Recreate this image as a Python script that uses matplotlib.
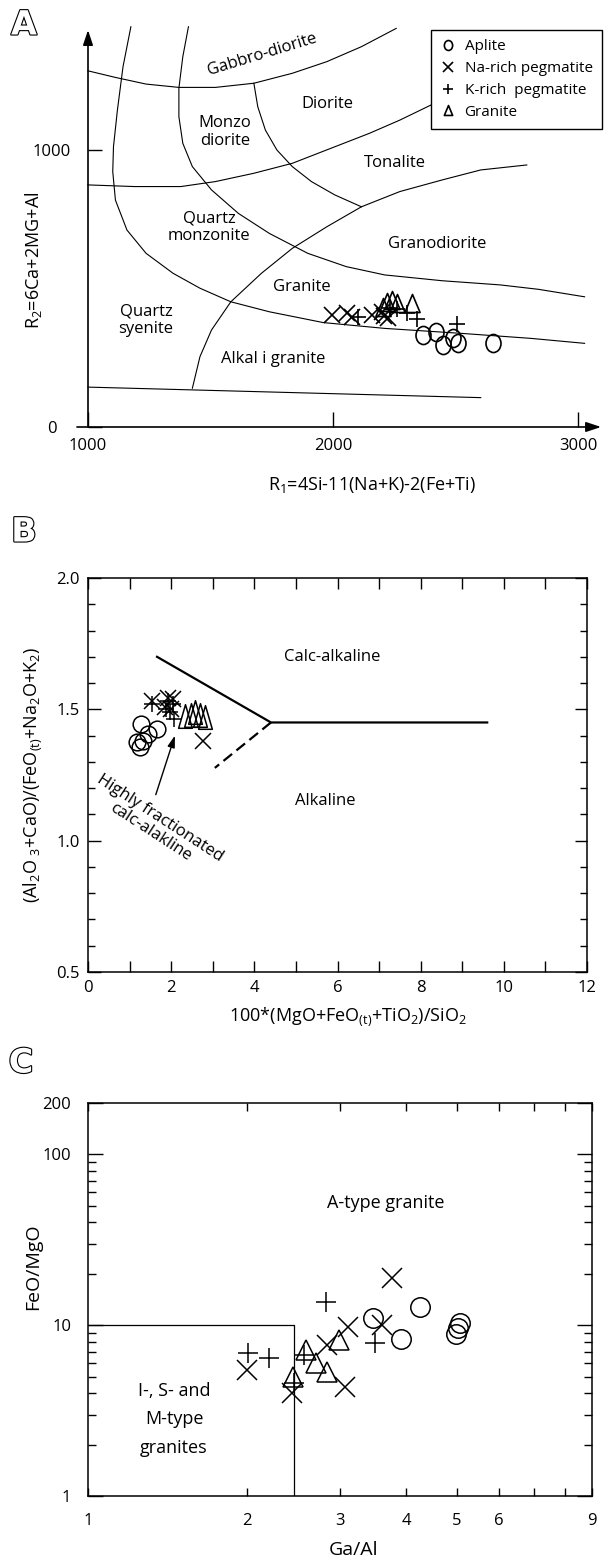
import matplotlib
matplotlib.use('Agg')
import matplotlib.pyplot as plt
import matplotlib.patheffects as pe
from matplotlib.path import Path
import numpy as np

plt.rcParams['font.family'] = ['Open Sans', 'DejaVu Sans']
plt.rcParams['mathtext.fontset'] = 'custom'
plt.rcParams['mathtext.rm'] = 'Open Sans'
plt.rcParams['mathtext.it'] = 'Open Sans:italic'
plt.rcParams['axes.linewidth'] = 1.1

W, H = 604, 1561

# ---------------- panel A : R1-R2 diagram ----------------
a_aplite_r1 = [2369, 2420, 2447, 2491, 2511, 2654]
a_aplite_r2 = [332, 344, 296, 320, 302, 302]
a_na_r1 = [1995, 2056, 2076, 2158, 2199, 2226, 2210]
a_na_r2 = [404, 413, 396, 404, 416, 392, 402]
a_k_r1 = [2103, 2233, 2260, 2301, 2341, 2505]
a_k_r2 = [398, 428, 425, 410, 389, 372]
a_gr_r1 = [2205, 2219, 2239, 2260, 2321]
a_gr_r2 = [434, 452, 458, 446, 446]

# field boundaries (R1, R2)
a_line_gabbro = [(999, 1286), (1112, 1262), (1237, 1238), (1371, 1226), (1520, 1226),
                 (1677, 1241), (1834, 1277), (1975, 1319), (2116, 1373), (2258, 1439)]
a_line_monzo = [(999, 874), (1190, 868), (1379, 868), (1520, 886), (1677, 916),
                (1834, 952), (1991, 1006), (2148, 1060), (2273, 1108), (2399, 1162)]
a_line_granite = [(2791, 946), (2603, 928), (2446, 892), (2273, 850), (2116, 795),
                  (1975, 723), (1834, 645), (1708, 555), (1583, 452), (1504, 350),
                  (1457, 254), (1426, 140)]
a_line_bottom = [(1000, 144), (2603, 106)]
a_line_syenite = [(1175, 1445), (1143, 1301), (1120, 1144), (1104, 1012), (1101, 922),
                  (1112, 819), (1159, 711), (1237, 627), (1347, 555), (1457, 501),
                  (1583, 452), (1740, 416), (1960, 377), (2211, 356), (2524, 338),
                  (2807, 320), (3027, 302)]
a_line_qmonz = [(1410, 1445), (1387, 1337), (1371, 1223), (1371, 1120), (1387, 1024),
                (1426, 940), (1504, 856), (1614, 771), (1740, 699), (1897, 627),
                (2054, 579), (2211, 549), (2446, 528), (2682, 513), (2839, 497),
                (3027, 470)]
a_line_diorite = [(1677, 1241), (1693, 1156), (1724, 1072), (1771, 1000), (1834, 940),
                  (1912, 886), (2007, 838), (2116, 795)]

a_fields = ['Gabbro-diorite', 'Diorite', 'Monzo\ndiorite', 'Tonalite', 'Quartz\nmonzonite',
            'Granodiorite', 'Granite', 'Quartz\nsyenite', 'Alkal i granite']
a_field_r1 = [1710, 1976, 1559, 2253, 1494, 2424, 1873, 1237, 1755]
a_field_r2 = [1343, 1166, 1065, 953, 722, 661, 505, 386, 245]

# ---------------- panel B ----------------
b_aplite_x = [1.27, 1.65, 1.45, 1.33, 1.17, 1.25]
b_aplite_y = [1.445, 1.425, 1.405, 1.378, 1.375, 1.357]
b_na_x = [1.55, 1.92, 2.05, 1.85, 2.00, 2.77]
b_na_y = [1.530, 1.545, 1.540, 1.510, 1.500, 1.380]
b_k_x = [1.55, 1.92, 2.05, 1.88, 1.98, 2.07]
b_k_y = [1.520, 1.530, 1.520, 1.500, 1.490, 1.465]
b_gr_x = [2.33, 2.47, 2.58, 2.70, 2.82]
b_gr_y = [1.475, 1.480, 1.490, 1.480, 1.470]
b_solid_upper = [(1.66, 1.70), (4.40, 1.45), (9.60, 1.45)]
b_dashed = [(4.40, 1.45), (3.05, 1.277)]

# ---------------- panel C ----------------
c_aplite_x = [3.46, 4.25, 3.91, 5.06, 4.97, 5.02]
c_aplite_y = [10.97, 12.83, 8.27, 10.26, 8.88, 9.59]
c_na_x = [3.76, 3.11, 3.60, 2.83, 2.00, 2.43, 3.07]
c_na_y = [18.8, 9.80, 10.03, 7.66, 5.47, 3.99, 4.36]
c_k_x = [2.82, 3.49, 2.01, 2.20, 2.56, 2.45]
c_k_y = [13.73, 7.83, 6.85, 6.40, 6.69, 4.57]
c_gr_x = [2.59, 2.99, 2.70, 2.83, 2.44]
c_gr_y = [7.16, 8.19, 5.98, 5.34, 5.00]
c_box_x = [1.0, 2.45, 2.45]
c_box_y = [10.0, 10.0, 1.0]

# markers
circ = Path.unit_circle()
ellipse = Path(circ.vertices * [0.83, 1.0], circ.codes)
tri_mid = Path([(-0.42, -0.5), (0.42, -0.5), (0, 0.5), (-0.42, -0.5)],
               [Path.MOVETO, Path.LINETO, Path.LINETO, Path.CLOSEPOLY])
tri_tall = Path([(-0.29, -0.5), (0.29, -0.5), (0, 0.5), (-0.29, -0.5)],
                [Path.MOVETO, Path.LINETO, Path.LINETO, Path.CLOSEPOLY])

fig = plt.figure(figsize=(W / 100, H / 100), dpi=100)


def px_axes(x0, y0, x1, y1):
    return fig.add_axes([x0 / W, 1 - y1 / H, (x1 - x0) / W, (y1 - y0) / H])


def pts(ax, x, y, marker, ms, label=None, mew=1.2):
    return ax.plot(x, y, ls='none', marker=marker, ms=ms, mfc='none', mec='k',
                   mew=mew, label=label, clip_on=False)[0]


def panel_letter(x, y, s):
    # hollow outlined letter
    t = fig.text(x / W, 1 - y / H, s, ha='center', va='center', fontsize=24,
                 fontweight='bold', color='white', family='DejaVu Sans')
    t.set_path_effects([pe.withStroke(linewidth=1.6, foreground='k')])


# ---- A ----
sx, sy = 0.245, 0.277  # px per unit
axA = px_axes(60, 20, 604, 440)
axA.set_xlim(1000 + (60 - 88) / sx, 1000 + (604 - 88) / sx)
axA.set_ylim((427 - 440) / sy, (427 - 20) / sy)
axA.patch.set_visible(False)
for s in axA.spines.values():
    s.set_visible(False)
axA.spines['left'].set_position(('data', 1000))
axA.spines['bottom'].set_position(('data', 0))
arrow = dict(arrowstyle='-|>,head_length=0.9,head_width=0.3', lw=1.2, color='k',
             shrinkA=0, shrinkB=0)
axA.annotate('', xy=(3094, 0), xytext=(955, 0), arrowprops=arrow)
axA.annotate('', xy=(1000, 1433), xytext=(1000, 0), arrowprops=arrow)
axA.set_xticks([1000, 2000, 3000], ['1000', '2000', '3000'])
axA.set_yticks([0, 1000], ['0', '1000'])
axA.tick_params(axis='x', direction='in', length=11, width=1, pad=8, labelsize=12)
axA.tick_params(axis='y', direction='in', length=10, width=1, pad=26, labelsize=12)
for t in axA.get_yticklabels():
    t.set_ha('center')

for line in [a_line_gabbro, a_line_monzo, a_line_granite, a_line_bottom,
             a_line_syenite, a_line_qmonz, a_line_diorite]:
    xs, ys = zip(*line)
    axA.plot(xs, ys, color='k', lw=0.8)

for name, x, y in zip(a_fields, a_field_r1, a_field_r2):
    axA.text(x, y, name, ha='center', va='center', fontsize=12,
             rotation=17 if name.startswith('Gabbro') else 0, linespacing=1.15)

h1 = pts(axA, a_aplite_r1, a_aplite_r2, ellipse, 13, 'Aplite')
h2 = pts(axA, a_na_r1, a_na_r2, 'x', 12, 'Na-rich pegmatite')
h3 = pts(axA, a_k_r1, a_k_r2, '+', 12, 'K-rich  pegmatite')
h4 = pts(axA, a_gr_r1, a_gr_r2, tri_mid, 13, 'Granite')
leg = axA.legend(handles=[h1, h2, h3, h4], loc='upper left',
                 bbox_to_anchor=(431 / W, 1 - 30 / H), bbox_transform=fig.transFigure,
                 fancybox=False, edgecolor='k', framealpha=1, fontsize=11,
                 markerscale=0.55, borderpad=0.6, labelspacing=0.45,
                 handlelength=1.0, handletextpad=0.6, borderaxespad=0)
leg.get_frame().set_linewidth(1.0)

fig.text(372 / W, 1 - 485 / H, r'R$_1$=4Si-11(Na+K)-2(Fe+Ti)', ha='center',
         va='center', fontsize=13)
fig.text(33 / W, 1 - 260 / H, r'R$_2$=6Ca+2MG+Al', ha='center', va='center',
         fontsize=13, rotation=90)
panel_letter(24, 25, 'A')

# ---- B ----
axB = px_axes(88, 578, 587, 972)
axB.set_xlim(0, 12)
axB.set_ylim(0.5, 2.0)
axB.set_xticks(np.arange(0, 13, 2), [str(v) for v in range(0, 13, 2)])
axB.set_xticks(np.arange(1, 12, 2), minor=True)
axB.set_yticks([0.5, 1.0, 1.5, 2.0], ['0.5', '1.0', '1.5', '2.0'])
axB.set_yticks(np.arange(0.6, 2.0, 0.1), minor=True)
axB.tick_params(which='both', direction='in', top=True, right=True, labelsize=12)
axB.tick_params(axis='x', which='both', length=8, width=1, pad=6)
axB.tick_params(axis='y', which='major', length=9, width=1, pad=6)
axB.tick_params(axis='y', which='minor', length=5, width=1)

xs, ys = zip(*b_solid_upper)
axB.plot(xs, ys, color='k', lw=1.6)
xs, ys = zip(*b_dashed)
axB.plot(xs, ys, color='k', lw=1.6, dashes=(5, 2.5))

pts(axB, b_aplite_x, b_aplite_y, 'o', 12, mew=1.1)
pts(axB, b_na_x, b_na_y, 'x', 11, mew=1.1)
pts(axB, b_k_x, b_k_y, '+', 11, mew=1.1)
pts(axB, b_gr_x, b_gr_y, tri_tall, 17, mew=1.1)

axB.text(5.87, 1.70, 'Calc-alkaline', ha='center', va='center', fontsize=12)
axB.text(5.70, 1.15, 'Alkaline', ha='center', va='center', fontsize=12)
axB.text(1.62, 1.06, 'Highly fractionated\ncalc-alakline', ha='center', va='center',
         fontsize=12, rotation=-33, rotation_mode='anchor', linespacing=1.05)
axB.annotate('', xy=(2.09, 1.40), xytext=(1.63, 1.175),
             arrowprops=dict(arrowstyle='-|>,head_length=0.7,head_width=0.22',
                             color='k', lw=1.0, shrinkA=0, shrinkB=0))

fig.text(348 / W, 1 - 1017 / H, r'100*(MgO+FeO$_{\mathrm{(t)}}$+TiO$_2$)/SiO$_2$',
         ha='center', va='center', fontsize=13)
fig.text(33 / W, 1 - 775 / H,
         r'(Al$_2$O $_3$+CaO)/(FeO$_{\mathrm{(t)}}$+Na$_2$O+K$_2$)',
         ha='center', va='center', fontsize=13, rotation=90)
panel_letter(24, 532, 'B')

# ---- C ----
axC = px_axes(88, 1103, 592, 1496)
axC.set_xscale('log')
axC.set_yscale('log')
axC.set_xlim(1, 9)
axC.set_ylim(1, 200)
axC.set_xticks([1, 2, 3, 4, 5, 6, 9], ['1', '2', '3', '4', '5', '6', '9'])
axC.set_xticks([7, 8], minor=True)
axC.xaxis.set_minor_formatter(plt.NullFormatter())
axC.set_yticks([1, 10, 100, 200], ['1', '10', '100', '200'])
axC.set_yticks([2, 3, 4, 5, 6, 7, 8, 9, 20, 30, 40, 50, 60, 70, 80, 90], minor=True)
axC.yaxis.set_minor_formatter(plt.NullFormatter())
axC.tick_params(which='both', direction='in', top=True, right=True, labelsize=12)
axC.tick_params(axis='x', which='both', length=6, width=1, pad=12)
axC.tick_params(axis='y', which='major', length=11, width=1, pad=12)
axC.tick_params(axis='y', which='minor', length=6, width=1)

axC.plot(c_box_x, c_box_y, color='k', lw=0.9)
pts(axC, c_aplite_x, c_aplite_y, 'o', 14, mew=1.1)
pts(axC, c_na_x, c_na_y, 'x', 14, mew=1.1)
pts(axC, c_k_x, c_k_y, '+', 14, mew=1.1)
pts(axC, c_gr_x, c_gr_y, '^', 14, mew=1.1)

axC.text(3.66, 52, 'A-type granite', ha='center', va='center', fontsize=13)
axC.text(1.455, 2.82, 'I-, S- and\nM-type\ngranites', ha='center', va='center',
         fontsize=13, linespacing=1.75)

fig.text(353 / W, 1 - 1550 / H, 'Ga/Al', ha='center', va='center', fontsize=14)
fig.text(33 / W, 1 - 1267 / H, 'FeO/MgO', ha='center', va='center', fontsize=14,
         rotation=90)
panel_letter(21, 1063, 'C')

fig.savefig('out.png', dpi=100)
